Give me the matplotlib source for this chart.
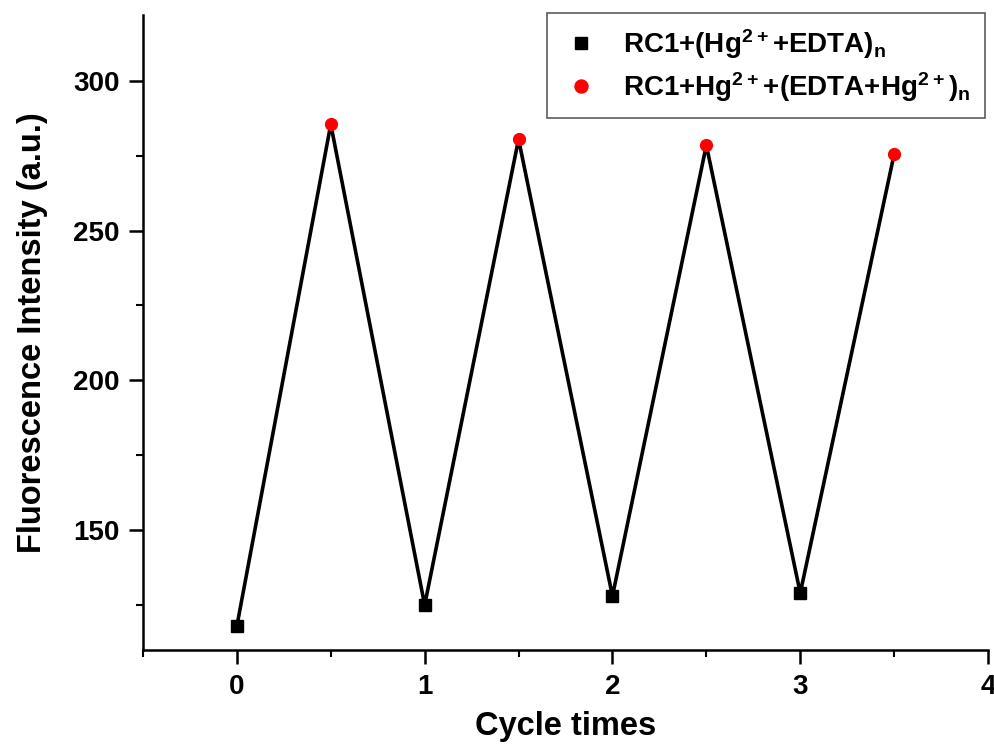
import numpy as np
import matplotlib.pyplot as plt
from matplotlib.ticker import MultipleLocator

# Data
cycle_off = [0, 1, 2, 3]
intensity_off = [118, 125, 128, 129]
cycle_on = [0.5, 1.5, 2.5, 3.5]
intensity_on = [285.5, 280.5, 278.5, 275.5]

plt.rcParams['font.family'] = ['Liberation Sans', 'DejaVu Sans']
plt.rcParams['font.weight'] = 'bold'
plt.rcParams['mathtext.fontset'] = 'custom'
plt.rcParams['mathtext.bf'] = 'Liberation Sans:bold'
plt.rcParams['mathtext.rm'] = 'Liberation Sans:bold'
plt.rcParams['mathtext.default'] = 'bf'

fig = plt.figure(figsize=(9.95, 7.45), dpi=100)
ax = fig.add_axes([0.1437, 0.1275, 0.993 - 0.1437, 0.98 - 0.1275])

# zigzag line through all points in order
all_x = np.array(cycle_off + cycle_on)
all_y = np.array(intensity_off + intensity_on)
order = np.argsort(all_x)
ax.plot(all_x[order], all_y[order], color='black', linewidth=2.6, zorder=2)

ax.plot(cycle_off, intensity_off, 's', color='black', markersize=8.5,
        linestyle='none', zorder=3, label=r'RC1+(Hg$^{2+}$+EDTA)$_{n}$')
ax.plot(cycle_on, intensity_on, 'o', color='red', markersize=8.5,
        linestyle='none', zorder=3, label=r'RC1+Hg$^{2+}$+(EDTA+Hg$^{2+}$)$_{n}$')

ax.set_xlim(-0.5, 4)
ax.set_ylim(110, 322)
ax.xaxis.set_major_locator(MultipleLocator(1))
ax.xaxis.set_minor_locator(MultipleLocator(0.5))
ax.yaxis.set_major_locator(MultipleLocator(50))
ax.yaxis.set_minor_locator(MultipleLocator(25))

for side in ['top', 'right']:
    ax.spines[side].set_visible(False)
for side in ['left', 'bottom']:
    ax.spines[side].set_linewidth(1.8)

ax.tick_params(axis='both', which='major', direction='out', length=10, width=1.8,
               labelsize=20, pad=7)
ax.tick_params(axis='both', which='minor', direction='out', length=5, width=1.5)

ax.set_xlabel('Cycle times', fontsize=23.5, fontweight='bold', labelpad=8)
ax.set_ylabel('Fluorescence Intensity (a.u.)', fontsize=23.5, fontweight='bold', labelpad=18)

leg = ax.legend(loc='upper right', bbox_to_anchor=(985 / 995, 1 - 13 / 745),
                bbox_transform=fig.transFigure, borderaxespad=0, fontsize=20,
                frameon=True, fancybox=False, edgecolor='#333333',
                handlelength=1.5, handletextpad=0.77, borderpad=0.5,
                labelspacing=0.35, markerscale=1.1)
leg.get_frame().set_linewidth(1.2)

fig.savefig('out.png', dpi=100)
